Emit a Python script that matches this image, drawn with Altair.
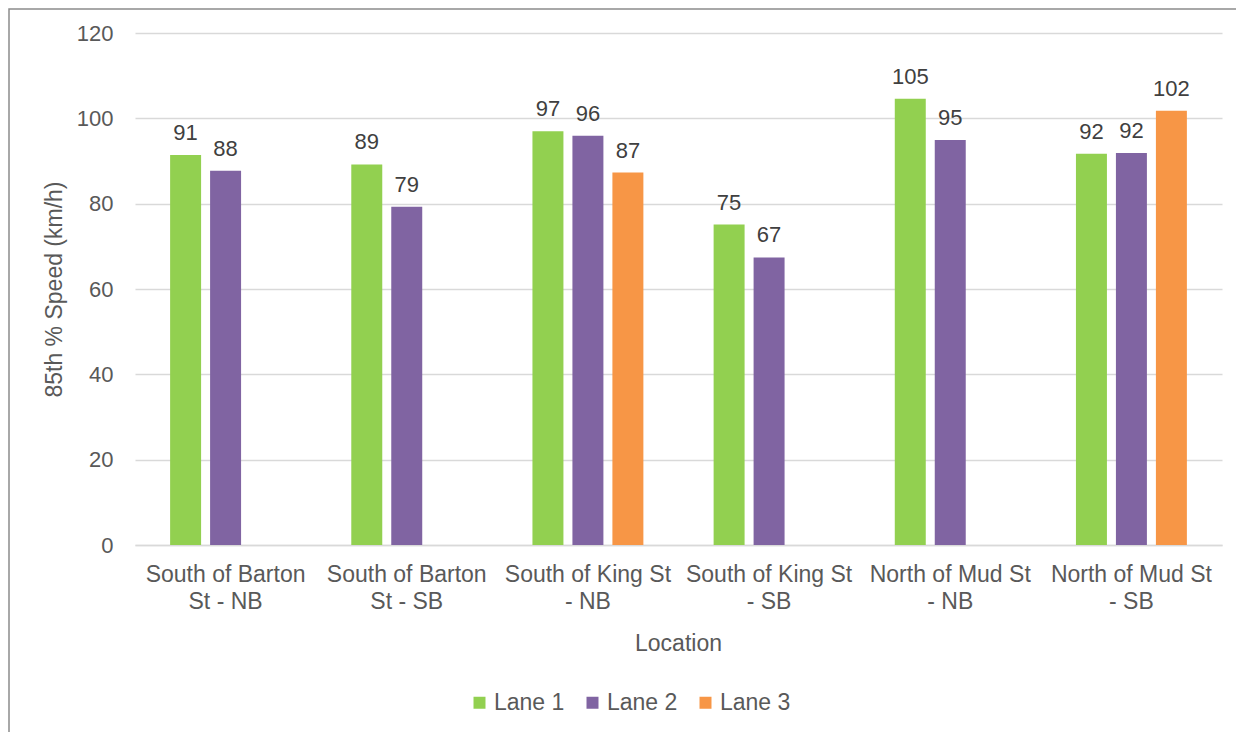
import altair as alt
import pandas as pd

# ---- data ----
locations = [
    "South of Barton St - NB",
    "South of Barton St - SB",
    "South of King St - NB",
    "South of King St - SB",
    "North of Mud St - NB",
    "North of Mud St - SB",
]
location_lines = [
    ["South of Barton", "St - NB"],
    ["South of Barton", "St - SB"],
    ["South of King St", "- NB"],
    ["South of King St", "- SB"],
    ["North of Mud St", "- NB"],
    ["North of Mud St", "- SB"],
]
lanes = ["Lane 1", "Lane 2", "Lane 3"]
lane1 = [91.4, 89.2, 97.0, 75.1, 104.6, 91.7]
lane2 = [87.7, 79.3, 95.9, 67.4, 94.9, 91.9]
lane3 = [None, None, 87.3, None, None, 101.8]
colors = ["#92D050", "#8064A2", "#F79646"]
y_ticks = [0, 20, 40, 60, 80, 100, 120]

rows = []
for lane, series in zip(lanes, [lane1, lane2, lane3]):
    for loc, v in zip(locations, series):
        if v is not None:
            rows.append({"location": loc, "lane": lane, "speed": v, "label": str(round(v))})
df = pd.DataFrame(rows)

# multi-line axis labels
expr = "datum.label"
for loc, lines in reversed(list(zip(locations, location_lines))):
    arr = "[" + ",".join("'" + s + "'" for s in lines) + "]"
    expr = f"datum.label == '{loc}' ? {arr} : ({expr})"

FONT = "Liberation Sans"
GREY = "#595959"

x_enc = alt.X(
    "location:N",
    sort=locations,
    scale=alt.Scale(paddingInner=0.338, paddingOuter=0.169),
    axis=alt.Axis(
        title="Location",
        labelExpr=expr,
        labelAngle=0,
        labelFont=FONT,
        labelFontSize=23,
        labelColor=GREY,
        labelLineHeight=27,
        labelBaseline="top",
        labelPadding=18,
        ticks=False,
        tickSize=0,
        domainColor="#d9d9d9",
        domainWidth=1.5,
        grid=False,
        titleFont=FONT,
        titleFontSize=23,
        titleFontWeight="normal",
        titleColor=GREY,
        titleX=543,
        titleY=105,
        titleBaseline="alphabetic",
        labelLimit=400,
    ),
)
xo_enc = alt.XOffset(
    "lane:N",
    scale=alt.Scale(domain=lanes, paddingInner=0.225, paddingOuter=0.1125),
)
y_enc = alt.Y(
    "speed:Q",
    scale=alt.Scale(domain=[0, 120], nice=False),
    axis=alt.Axis(
        values=y_ticks,
        title="85th % Speed (km/h)",
        labelFont=FONT,
        labelFontSize=22,
        labelColor=GREY,
        labelPadding=22,
        ticks=False,
        tickSize=0,
        domain=False,
        grid=True,
        gridColor="#d9d9d9",
        gridWidth=1.4,
        titleFont=FONT,
        titleFontSize=23,
        titleFontWeight="normal",
        titleColor=GREY,
        titleX=-81,
        titleY=256,
        titleAngle=270,
        titleAlign="center",
        titleBaseline="middle",
    ),
)

bars = alt.Chart(df).mark_bar().encode(
    x=x_enc,
    xOffset=xo_enc,
    y=y_enc,
    color=alt.Color(
        "lane:N",
        scale=alt.Scale(domain=lanes, range=colors),
        legend=alt.Legend(
            title=None,
            orient="none",
            direction="horizontal",
            legendX=333,
            legendY=658,
            symbolType="square",
            symbolSize=144,
            symbolStrokeWidth=0,
            symbolOpacity=1,
            labelFont=FONT,
            labelFontSize=23,
            labelColor=GREY,
            labelOffset=3,
            columnPadding=16,
            padding=0,
        ),
    ),
)

labels = alt.Chart(df).mark_text(
    font=FONT, fontSize=22, color="#404040", baseline="alphabetic", dy=-15
).encode(
    x=alt.X("location:N", sort=locations),
    xOffset=alt.XOffset("lane:N", scale=alt.Scale(domain=lanes)),
    y=alt.Y("speed:Q"),
    text="label:N",
)

border = alt.Chart(pd.DataFrame({"k": [0]})).mark_rect(
    fill="transparent", stroke="#8c8c8c", strokeWidth=1.5
).encode(
    x=alt.value(-126),
    x2=alt.value(1400),
    y=alt.value(-24),
    y2=alt.value(1000),
)

chart = (
    alt.layer(border, bars, labels)
    .properties(
        width=1087,
        height=512,
        padding={"left": 127, "top": 25, "right": 14, "bottom": 187},
        autosize=alt.AutoSizeParams(type="none"),
        background="white",
    )
    .configure_view(strokeWidth=0)
)

chart.save("out.html", embed_options={"renderer": "svg", "actions": False})
